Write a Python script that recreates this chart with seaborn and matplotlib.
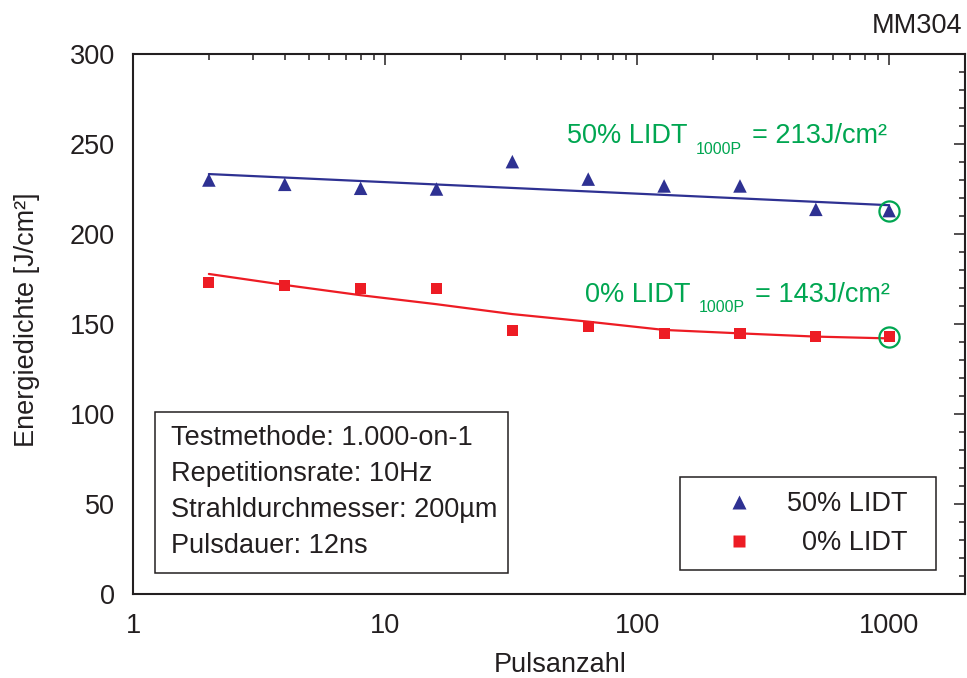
import numpy as np
import pandas as pd
import matplotlib
matplotlib.use("Agg")
import matplotlib.pyplot as plt
from matplotlib import ticker, patches
from matplotlib.lines import Line2D
import seaborn as sns

# --- measured damage thresholds -------------------------------------------
pulses = [2, 4, 8, 16, 32, 64, 128, 256, 512, 1000]
lidt_50 = [230.0, 227.6, 225.4, 225.0, 240.2, 230.5, 226.7, 226.7, 213.7, 213.0]
lidt_0 = [173.0, 171.3, 169.8, 169.8, 146.3, 148.5, 144.8, 144.8, 143.0, 143.0]

# trend curves through the measurements
fit_50_x = [2, 1000]
fit_50 = [233.3, 216.0]
fit_0_x = [2, 4, 8, 16, 32, 64, 128, 256, 512, 1000]
fit_0 = [177.8, 171.7, 166.0, 161.0, 155.5, 151.3, 146.7, 144.8, 143.0, 142.0]

# extrapolated thresholds at 1000 pulses
lidt_1000p_50 = 213
lidt_1000p_0 = 143

series_labels = ["50% LIDT", "0% LIDT"]
x_ticks = [1, 10, 100, 1000]
x_tick_labels = ["1", "10", "100", "1000"]
info_lines = ["Testmethode: 1.000-on-1", "Repetitionsrate: 10Hz",
              "Strahldurchmesser: 200µm", "Pulsdauer: 12ns"]

BLUE = "#2E3192"
RED = "#ED1C24"
GREEN = "#00A651"
INK = "#231F20"
FS = 19.5

sns.set_theme(style="white")
plt.rcParams["font.family"] = ["Liberation Sans", "DejaVu Sans"]
plt.rcParams["text.color"] = INK
plt.rcParams["axes.labelcolor"] = INK
plt.rcParams["xtick.color"] = INK
plt.rcParams["ytick.color"] = INK

fig = plt.figure(figsize=(9.67, 6.78), dpi=100)
ax = fig.add_axes([133 / 967, 84 / 678, 832 / 967, 540 / 678])

df50 = pd.DataFrame({"Pulsanzahl": pulses, "LIDT": lidt_50})
df0 = pd.DataFrame({"Pulsanzahl": pulses, "LIDT": lidt_0})

sns.lineplot(x=fit_50_x, y=fit_50, color=BLUE, lw=1.6, ax=ax, zorder=2)
sns.lineplot(x=fit_0_x, y=fit_0, color=RED, lw=1.6, ax=ax, zorder=2)
sns.scatterplot(data=df50, x="Pulsanzahl", y="LIDT", marker="^", s=95,
                color=BLUE, edgecolor="none", ax=ax, zorder=3)
sns.scatterplot(data=df0, x="Pulsanzahl", y="LIDT", marker="s", s=64,
                color=RED, edgecolor="none", ax=ax, zorder=3)

# rings marking the 1000-pulse thresholds
ax.plot([1000, 1000], [lidt_1000p_50, lidt_1000p_0], ls="none", marker="o",
        ms=14.5, mfc="none", mec=GREEN, mew=1.6, zorder=4)

ax.set_xscale("log")
ax.set_xlim(1, 2000)
ax.set_ylim(0, 300)
ax.set_xticks(x_ticks)
ax.set_xticklabels(x_tick_labels)
ax.xaxis.set_minor_locator(ticker.LogLocator(base=10, subs=np.arange(2, 10)))
ax.xaxis.set_minor_formatter(ticker.NullFormatter())
ax.yaxis.set_major_locator(ticker.MultipleLocator(50))
ax.yaxis.set_minor_locator(ticker.MultipleLocator(10))

for sp in ax.spines.values():
    sp.set_visible(True)
    sp.set_linewidth(1.5)
    sp.set_color(INK)

ax.tick_params(which="both", direction="in", top=True, right=True,
               labelsize=FS, width=1.1)
ax.tick_params(which="major", length=8)
ax.tick_params(which="minor", length=4.3)
ax.tick_params(axis="x", which="major", pad=14)
ax.tick_params(axis="y", which="major", pad=13)

ax.set_xlabel("Pulsanzahl", fontsize=FS)
ax.set_ylabel("Energiedichte [J/cm²]", fontsize=FS)
ax.xaxis.set_label_coords(0.513, -0.107)
ax.yaxis.set_label_coords(-0.112, 0.507)


def lidt_note(x, y, name, value):
    main = ax.text(x, y, name, color=GREEN, fontsize=FS,
                   ha="left", va="baseline")
    sub = ax.annotate("1000P", xy=(1, 0), xycoords=main, xytext=(6, -5.5),
                      textcoords="offset points", fontsize=11.5, color=GREEN,
                      ha="left", va="bottom")
    ax.annotate(f"= {value}J/cm²", xy=(1, 0), xycoords=(sub, main),
                xytext=(7, 0), textcoords="offset points", fontsize=FS,
                color=GREEN, ha="left", va="bottom")


lidt_note(52.8, 250.5, series_labels[0], lidt_1000p_50)
lidt_note(62.2, 162.5, series_labels[1], lidt_1000p_0)

# test conditions box
ax.add_patch(patches.Rectangle((22 / 832, 21 / 540), 353 / 832, 161 / 540,
                               transform=ax.transAxes, facecolor="white",
                               edgecolor=INK, lw=1.1, zorder=5))
ax.text(37.7 / 832, (594 - 425) / 540, "\n".join(info_lines),
        transform=ax.transAxes, fontsize=FS, ha="left", va="top",
        linespacing=1.5, zorder=6)

# legend
handles = [
    Line2D([], [], ls="none", marker="^", ms=9.7, color=BLUE, mec="none"),
    Line2D([], [], ls="none", marker="s", ms=8, color=RED, mec="none"),
]
leg = ax.legend(handles, [series_labels[0] + "  ", "  " + series_labels[1] + "  "],
                loc="upper left",
                bbox_to_anchor=((680 - 133) / 832, (594 - 477) / 540),
                fontsize=FS, frameon=True, fancybox=False, framealpha=1,
                edgecolor=INK, borderpad=0.52, handlelength=3.3,
                handletextpad=0.13, labelspacing=0.48, borderaxespad=0)
leg.get_frame().set_linewidth(1.1)

fig.text(962 / 967, 1 - 33 / 678, "MM304", fontsize=FS, ha="right",
         va="baseline")

fig.savefig("out.png", dpi=100)
